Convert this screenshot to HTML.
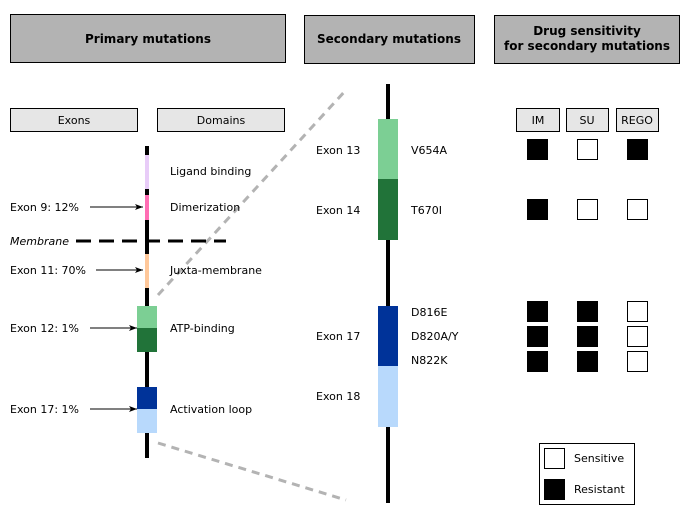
<!DOCTYPE html>
<html><head><meta charset="utf-8"><style>
html,body{margin:0;padding:0;background:#fff;}
svg{display:block;}
text{font-family:"DejaVu Sans","Liberation Sans",sans-serif;font-size:11px;fill:#000;}
.b{font-weight:bold;font-size:12px;}
</style></head><body>
<svg width="690" height="520" viewBox="0 0 690 520" xmlns="http://www.w3.org/2000/svg">
<defs><marker id="ar" markerWidth="8" markerHeight="6" refX="8" refY="3" orient="auto" markerUnits="userSpaceOnUse"><path d="M0,0 L8,3 L0,6 L2,3 z" fill="#000"/></marker></defs>
<!-- headers -->
<rect x="10.5" y="14.5" width="275" height="48" fill="#b3b3b3" stroke="#000"/>
<text x="148" y="43" text-anchor="middle" class="b">Primary mutations</text>
<rect x="304.5" y="15.5" width="170" height="48" fill="#b3b3b3" stroke="#000"/>
<text x="389" y="43" text-anchor="middle" class="b">Secondary mutations</text>
<rect x="494.5" y="15.5" width="185" height="48" fill="#b3b3b3" stroke="#000"/>
<text x="587" y="35" text-anchor="middle" class="b">Drug sensitivity</text>
<text x="587" y="50" text-anchor="middle" class="b">for secondary mutations</text>
<rect x="10.5" y="108.5" width="127" height="23" fill="#e6e6e6" stroke="#000"/>
<text x="74" y="124" text-anchor="middle">Exons</text>
<rect x="157.5" y="108.5" width="127" height="23" fill="#e6e6e6" stroke="#000"/>
<text x="221" y="124" text-anchor="middle">Domains</text>
<!-- dashed connectors -->
<line x1="158" y1="295" x2="346" y2="90" stroke="#b3b3b3" stroke-width="3" stroke-dasharray="8,6"/>
<line x1="158" y1="443" x2="346" y2="500" stroke="#b3b3b3" stroke-width="3" stroke-dasharray="8,6"/>
<!-- left axis -->
<rect x="145" y="146" width="4" height="312" fill="#000"/>
<rect x="145" y="155" width="4" height="34" fill="#e8ccf8"/>
<rect x="145" y="195" width="4" height="25" fill="#ff6eb4"/>
<rect x="145" y="254" width="4" height="34" fill="#ffc89a"/>
<rect x="137" y="306" width="20" height="22" fill="#7ccf94"/>
<rect x="137" y="328" width="20" height="24" fill="#217339"/>
<rect x="137" y="387" width="20" height="22" fill="#003399"/>
<rect x="137" y="409" width="20" height="24" fill="#b8d9fc"/>
<line x1="76" y1="241" x2="226" y2="241" stroke="#000" stroke-width="3" stroke-dasharray="15,8"/>
<text x="10" y="245" font-style="italic">Membrane</text>
<text x="10" y="211">Exon 9: 12%</text>
<text x="10" y="274">Exon 11: 70%</text>
<text x="10" y="332">Exon 12: 1%</text>
<text x="10" y="413">Exon 17: 1%</text>
<line x1="90" y1="207" x2="143" y2="207" stroke="#000" marker-end="url(#ar)"/>
<line x1="96" y1="270" x2="143" y2="270" stroke="#000" marker-end="url(#ar)"/>
<line x1="90" y1="328" x2="137" y2="328" stroke="#000" marker-end="url(#ar)"/>
<line x1="90" y1="409" x2="137" y2="409" stroke="#000" marker-end="url(#ar)"/>
<text x="170" y="175">Ligand binding</text>
<text x="170" y="211">Dimerization</text>
<text x="170" y="274">Juxta-membrane</text>
<text x="170" y="332">ATP-binding</text>
<text x="170" y="413">Activation loop</text>
<!-- right axis -->
<rect x="386" y="84" width="4" height="419" fill="#000"/>
<rect x="378" y="119" width="20" height="60" fill="#7ccf94"/>
<rect x="378" y="179" width="20" height="61" fill="#217339"/>
<rect x="378" y="306" width="20" height="60" fill="#003399"/>
<rect x="378" y="366" width="20" height="61" fill="#b8d9fc"/>
<text x="316" y="154">Exon 13</text>
<text x="316" y="214">Exon 14</text>
<text x="316" y="340">Exon 17</text>
<text x="316" y="400">Exon 18</text>
<text x="411" y="154">V654A</text>
<text x="411" y="214">T670I</text>
<text x="411" y="316">D816E</text>
<text x="411" y="340">D820A/Y</text>
<text x="411" y="364">N822K</text>
<!-- drug -->
<rect x="516.5" y="108.5" width="43" height="23" fill="#e6e6e6" stroke="#000"/>
<text x="538" y="124" text-anchor="middle">IM</text>
<rect x="566.5" y="108.5" width="42" height="23" fill="#e6e6e6" stroke="#000"/>
<text x="587" y="124" text-anchor="middle">SU</text>
<rect x="616.5" y="108.5" width="42" height="23" fill="#e6e6e6" stroke="#000"/>
<text x="637" y="124" text-anchor="middle">REGO</text>
<g stroke="#000">
<rect x="527.5" y="139.5" width="20" height="20" fill="#000"/>
<rect x="577.5" y="139.5" width="20" height="20" fill="#fff"/>
<rect x="627.5" y="139.5" width="20" height="20" fill="#000"/>
<rect x="527.5" y="199.5" width="20" height="20" fill="#000"/>
<rect x="577.5" y="199.5" width="20" height="20" fill="#fff"/>
<rect x="627.5" y="199.5" width="20" height="20" fill="#fff"/>
<rect x="527.5" y="301.5" width="20" height="20" fill="#000"/>
<rect x="577.5" y="301.5" width="20" height="20" fill="#000"/>
<rect x="627.5" y="301.5" width="20" height="20" fill="#fff"/>
<rect x="527.5" y="326.5" width="20" height="20" fill="#000"/>
<rect x="577.5" y="326.5" width="20" height="20" fill="#000"/>
<rect x="627.5" y="326.5" width="20" height="20" fill="#fff"/>
<rect x="527.5" y="351.5" width="20" height="20" fill="#000"/>
<rect x="577.5" y="351.5" width="20" height="20" fill="#000"/>
<rect x="627.5" y="351.5" width="20" height="20" fill="#fff"/>
<rect x="539.5" y="443.5" width="95" height="61" fill="#fff"/>
<rect x="544.5" y="448.5" width="20" height="20" fill="#fff"/>
<rect x="544.5" y="479.5" width="20" height="20" fill="#000"/>
</g>
<text x="574" y="462">Sensitive</text>
<text x="574" y="493">Resistant</text>
</svg>
</body></html>
